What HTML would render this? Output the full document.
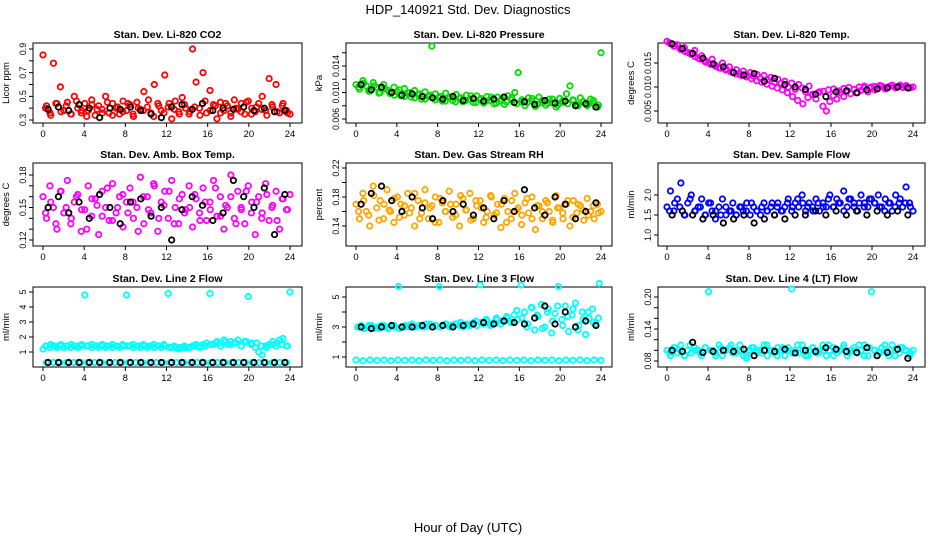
<!DOCTYPE html>
<html><head><meta charset="utf-8"><style>
body{margin:0;background:#fff;}
svg{display:block;font-family:"Liberation Sans",sans-serif;}
</style></head><body>
<svg id="chart" width="936" height="540" viewBox="0 0 936 540" xmlns="http://www.w3.org/2000/svg">
<text x="468" y="14" text-anchor="middle" font-size="13">HDP_140921 Std. Dev. Diagnostics</text>
<text x="468" y="532" text-anchor="middle" font-size="13">Hour of Day (UTC)</text>
</svg>
<script>
const hourTicks=[0,4,8,12,16,20,24];
const titles=["Stan. Dev. Li-820 CO2","Stan. Dev. Li-820 Pressure","Stan. Dev. Li-820 Temp.","Stan. Dev. Amb. Box Temp.","Stan. Dev. Gas Stream RH","Stan. Dev. Sample Flow","Stan. Dev. Line 2 Flow","Stan. Dev. Line 3 Flow","Stan. Dev. Line 4 (LT) Flow"];
const yTitles=["Licor ppm","kPa","degrees C","degrees C","percent","ml/min","ml/min","ml/min","ml/min"];
const yTicks=[[0.3,0.4,0.5,0.6,0.7,0.8,0.9],[0.006,0.008,0.010,0.012,0.014,0.016],[0.005,0.010,0.015],[0.12,0.13,0.14,0.15,0.16,0.17,0.18],[0.14,0.16,0.18,0.20,0.22],[1.0,1.5,2.0],[1,2,3,4,5],[1,2,3,4,5],[0.08,0.10,0.12,0.14,0.16,0.18,0.20]];
const yTickLabels=[["0.3","","0.5","","0.7","","0.9"],["0.006","","0.010","","0.014",""],["0.005","0.010","0.015"],["0.12","","","0.15","","","0.18"],["0.14","","0.18","","0.22"],["1.0","1.5","2.0"],["1","2","3","4","5"],["1","","3","","5"],["0.08","","","0.14","","","0.20"]];
const p1c=[0.85,0.42,0.36,0.78,0.44,0.58,0.38,0.45,0.35,0.50,0.40,0.36,0.44,0.38,0.47,0.34,0.42,0.39,0.50,0.36,0.44,0.40,0.35,0.46,0.38,0.43,0.33,0.45,0.39,0.54,0.41,0.36,0.60,0.44,0.38,0.68,0.41,0.31,0.46,0.37,0.49,0.40,0.35,0.90,0.62,0.40,0.70,0.36,0.55,0.43,0.31,0.45,0.38,0.42,0.36,0.47,0.39,0.44,0.35,0.46,0.40,0.37,0.44,0.50,0.38,0.65,0.41,0.60,0.36,0.44,0.38,0.35];
const p1c2=[0.40,0.34,0.44,0.37,0.42,0.35,0.46,0.38,0.33,0.43,0.39,0.36,0.45,0.34,0.41,0.37,0.44,0.35,0.40,0.38,0.47,0.33,0.42,0.36,0.44,0.39,0.35,0.43,0.37,0.41,0.34,0.46,0.38,0.42,0.36,0.44,0.33,0.40,0.37,0.45,0.35,0.41,0.39,0.34,0.43,0.37,0.42,0.36];
const p1k=[0.39,0.41,0.38,0.43,0.40,0.32,0.40,0.39,0.41,0.38,0.35,0.32,0.41,0.43,0.39,0.44,0.38,0.40,0.39,0.41,0.38,0.40,0.37,0.38];
const p2c=[0.0112,0.0105,0.0118,0.0110,0.0102,0.0115,0.0108,0.0100,0.0112,0.0104,0.0098,0.0108,0.0101,0.0095,0.0106,0.0099,0.0093,0.0103,0.0097,0.0090,0.0101,0.0094,0.0170,0.0098,0.0092,0.0087,0.0099,0.0093,0.0088,0.0097,0.0091,0.0086,0.0096,0.0090,0.0085,0.0095,0.0089,0.0084,0.0094,0.0088,0.0083,0.0093,0.0087,0.0082,0.0095,0.0089,0.0100,0.0130,0.0086,0.0080,0.0092,0.0087,0.0079,0.0093,0.0085,0.0081,0.0090,0.0084,0.0078,0.0091,0.0085,0.0098,0.0110,0.0088,0.0082,0.0092,0.0086,0.0080,0.0090,0.0084,0.0078,0.0160];
const p2c2=[0.0108,0.0114,0.0102,0.0110,0.0099,0.0106,0.0101,0.0096,0.0104,0.0094,0.0100,0.0092,0.0098,0.0090,0.0096,0.0089,0.0094,0.0087,0.0093,0.0086,0.0092,0.0088,0.0095,0.0085,0.0091,0.0087,0.0093,0.0084,0.0090,0.0086,0.0092,0.0083,0.0089,0.0085,0.0091,0.0082,0.0088,0.0084,0.0090,0.0081,0.0087,0.0083,0.0089,0.0080,0.0086,0.0082,0.0088,0.0081];
const p2k=[0.0112,0.0104,0.0108,0.0100,0.0096,0.0098,0.0094,0.0092,0.0090,0.0094,0.0088,0.0091,0.0087,0.0090,0.0093,0.0085,0.0086,0.0082,0.0088,0.0084,0.0087,0.0080,0.0083,0.0078];
const p3c=[0.0195,0.0190,0.0185,0.0188,0.0178,0.0182,0.0172,0.0168,0.0176,0.0160,0.0165,0.0155,0.0150,0.0158,0.0145,0.0140,0.0150,0.0138,0.0142,0.0132,0.0136,0.0128,0.0133,0.0125,0.0130,0.0122,0.0126,0.0118,0.0124,0.0115,0.0120,0.0110,0.0116,0.0108,0.0112,0.0100,0.0108,0.0095,0.0105,0.0098,0.0090,0.0102,0.0085,0.0075,0.0090,0.0060,0.0050,0.0070,0.0082,0.0075,0.0088,0.0080,0.0092,0.0086,0.0095,0.0088,0.0093,0.0098,0.0090,0.0100,0.0094,0.0098,0.0102,0.0096,0.0100,0.0104,0.0098,0.0102,0.0099,0.0103,0.0098,0.0100];
const p3c2=[0.0192,0.0186,0.0180,0.0174,0.0170,0.0163,0.0158,0.0152,0.0147,0.0143,0.0139,0.0135,0.0131,0.0127,0.0124,0.0121,0.0117,0.0113,0.0110,0.0106,0.0102,0.0098,0.0094,0.0088,0.0080,0.0072,0.0065,0.0078,0.0084,0.0088,0.0091,0.0094,0.0096,0.0092,0.0097,0.0099,0.0095,0.0100,0.0102,0.0098,0.0101,0.0103,0.0099,0.0102,0.0100,0.0104,0.0101,0.0099];
const p3k=[0.0190,0.0180,0.0170,0.0160,0.0148,0.0142,0.0130,0.0125,0.0128,0.0112,0.0118,0.0105,0.0100,0.0095,0.0085,0.0080,0.0090,0.0092,0.0088,0.0094,0.0096,0.0098,0.0100,0.0098];
const p4c=[0.160,0.140,0.170,0.150,0.130,0.165,0.145,0.175,0.135,0.155,0.162,0.128,0.148,0.170,0.142,0.158,0.125,0.165,0.150,0.138,0.172,0.145,0.160,0.132,0.155,0.168,0.140,0.150,0.178,0.135,0.160,0.145,0.170,0.128,0.155,0.165,0.140,0.175,0.150,0.135,0.162,0.148,0.170,0.132,0.158,0.145,0.168,0.138,0.155,0.175,0.142,0.160,0.130,0.150,0.180,0.140,0.165,0.148,0.135,0.170,0.155,0.125,0.160,0.145,0.172,0.138,0.152,0.165,0.130,0.158,0.148,0.162];
const p4c2=[0.145,0.155,0.135,0.165,0.150,0.140,0.160,0.148,0.130,0.158,0.152,0.142,0.168,0.138,0.150,0.162,0.145,0.155,0.128,0.160,0.148,0.172,0.140,0.152,0.165,0.135,0.158,0.145,0.150,0.162,0.138,0.155,0.148,0.168,0.142,0.152,0.160,0.135,0.150,0.165,0.145,0.155,0.140,0.162,0.150,0.138,0.158,0.148];
const p4k=[0.150,0.160,0.145,0.155,0.140,0.162,0.150,0.135,0.155,0.158,0.142,0.150,0.120,0.148,0.160,0.152,0.138,0.145,0.175,0.160,0.150,0.168,0.125,0.162];
const p5c=[0.170,0.150,0.185,0.160,0.140,0.195,0.165,0.175,0.150,0.190,0.160,0.145,0.180,0.170,0.155,0.185,0.165,0.140,0.175,0.158,0.190,0.150,0.168,0.180,0.145,0.172,0.160,0.188,0.152,0.170,0.140,0.178,0.162,0.185,0.150,0.168,0.175,0.145,0.160,0.182,0.155,0.170,0.138,0.178,0.160,0.150,0.185,0.165,0.142,0.172,0.158,0.180,0.135,0.168,0.150,0.175,0.160,0.145,0.182,0.165,0.150,0.170,0.140,0.175,0.158,0.168,0.148,0.178,0.160,0.150,0.170,0.160];
const p5c2=[0.160,0.175,0.155,0.182,0.148,0.170,0.162,0.178,0.152,0.168,0.158,0.185,0.150,0.172,0.165,0.145,0.178,0.160,0.170,0.155,0.182,0.162,0.148,0.175,0.165,0.152,0.180,0.158,0.170,0.145,0.175,0.162,0.155,0.178,0.150,0.168,0.160,0.172,0.148,0.165,0.158,0.175,0.152,0.170,0.162,0.155,0.168,0.158];
const p5k=[0.170,0.185,0.195,0.175,0.160,0.180,0.165,0.150,0.175,0.160,0.170,0.155,0.165,0.150,0.175,0.160,0.190,0.165,0.155,0.180,0.170,0.150,0.160,0.172];
const p6c=[1.7,2.1,1.6,1.9,2.3,1.5,1.8,2.0,1.6,1.7,1.9,1.5,1.8,1.6,1.4,1.7,1.9,1.5,1.6,1.8,1.5,1.7,1.6,1.8,1.5,1.7,1.6,1.5,1.8,1.6,1.7,1.5,1.8,1.6,1.7,1.9,1.6,1.8,1.7,2.0,1.6,1.8,1.7,1.9,1.6,1.8,1.7,2.0,1.7,1.9,1.8,2.1,1.7,1.9,1.8,1.6,2.0,1.8,1.7,1.9,1.8,2.0,1.7,1.9,1.8,1.6,2.0,1.8,1.7,2.2,1.8,1.6];
const p6c2=[1.6,1.8,1.7,1.5,1.9,1.6,1.7,1.5,1.8,1.6,1.5,1.7,1.6,1.5,1.7,1.6,1.8,1.6,1.7,1.6,1.8,1.7,1.6,1.8,1.7,1.9,1.8,1.7,1.6,1.8,1.7,1.9,1.7,1.8,1.6,1.9,1.7,1.8,1.7,1.9,1.8,1.7,1.6,1.8,1.7,1.9,1.8,1.7];
const p6k=[1.5,1.6,1.5,1.4,1.5,1.3,1.4,1.5,1.3,1.4,1.5,1.4,1.5,1.5,1.6,1.5,1.6,1.5,1.6,1.5,1.6,1.5,1.6,1.5];
const p7c=[1.2,1.4,1.3,1.4,1.3,1.4,1.3,1.4,1.3,1.4,1.3,1.4,4.8,1.4,1.3,1.4,1.3,1.4,1.3,1.4,1.3,1.4,1.3,1.4,4.8,1.4,1.3,1.4,1.3,1.4,1.3,1.4,1.3,1.4,1.3,1.4,4.9,1.3,1.3,1.2,1.3,1.3,1.3,1.4,1.5,1.4,1.5,1.6,4.9,1.5,1.7,1.6,1.8,1.5,1.7,1.6,1.8,1.4,1.7,4.7,1.6,1.3,1.0,0.8,1.4,1.5,1.7,1.4,1.8,1.9,1.4,5.0];
const p7c2=[1.4,1.5,1.4,1.5,1.4,1.5,1.4,1.5,1.4,1.5,1.4,1.5,1.4,1.5,1.4,1.5,1.4,1.5,1.4,1.5,1.4,1.5,1.4,1.5,1.3,1.4,1.3,1.4,1.3,1.4,1.3,1.4,1.5,1.6,1.4,1.7,1.5,1.6,1.4,1.7,1.5,1.6,1.4,1.3,1.5,1.6,1.5,1.4];
const p7low=[0.3,0.3,0.3,0.3,0.3,0.3,0.3,0.3,0.3,0.3,0.3,0.3,0.3,0.3,0.3,0.3,0.3,0.3,0.3,0.3,0.3,0.3,0.3,0.3,0.3,0.3,0.3,0.3,0.3,0.3,0.3,0.3,0.3,0.3,0.3,0.3];
const p7k=[0.3,0.3,0.3,0.3,0.3,0.3,0.3,0.3,0.3,0.3,0.3,0.3,0.3,0.3,0.3,0.3,0.3,0.3,0.3,0.3,0.3,0.3,0.3,0.3];
const p8c=[3.0,3.1,2.9,3.0,3.1,2.9,3.0,3.1,3.0,2.9,3.1,3.0,5.7,3.0,3.1,3.0,3.2,3.0,3.1,3.0,3.2,3.1,3.0,3.1,5.7,3.1,3.2,3.0,3.1,3.2,3.1,3.0,3.2,3.1,3.3,3.1,5.8,3.2,3.4,3.1,3.3,3.5,3.2,3.4,3.6,3.3,3.8,3.5,5.8,4.0,3.2,4.3,2.8,3.7,4.5,3.0,4.2,2.6,3.9,5.7,3.5,4.4,2.7,3.8,4.6,3.1,4.0,2.5,3.6,4.2,3.2,5.9];
const p8c2=[3.0,2.9,3.1,3.0,2.9,3.1,3.0,3.1,2.9,3.0,3.1,3.0,3.1,3.0,3.2,3.1,3.0,3.2,3.1,3.2,3.3,3.1,3.2,3.4,3.3,3.5,3.2,3.6,3.4,3.7,3.3,4.1,3.6,3.0,4.3,3.8,2.9,4.0,3.4,4.4,3.1,3.7,4.2,2.8,3.5,4.0,3.3,3.6];
const p8low=[0.8,0.75,0.8,0.78,0.8,0.75,0.8,0.78,0.8,0.76,0.8,0.78,0.8,0.75,0.8,0.78,0.8,0.75,0.8,0.78,0.8,0.76,0.8,0.78,0.8,0.75,0.8,0.78,0.8,0.75,0.8,0.78,0.8,0.76,0.8,0.78];
const p8k=[3.0,2.9,3.0,3.1,3.0,3.0,3.1,3.0,3.1,3.0,3.1,3.2,3.3,3.2,3.4,3.3,3.2,3.6,4.4,3.2,4.0,3.0,3.4,3.1];
const p9c=[0.10,0.09,0.105,0.095,0.11,0.09,0.10,0.095,0.105,0.10,0.09,0.105,0.21,0.10,0.095,0.11,0.09,0.10,0.105,0.095,0.10,0.11,0.09,0.085,0.10,0.105,0.095,0.10,0.11,0.09,0.10,0.095,0.105,0.10,0.09,0.105,0.215,0.10,0.095,0.11,0.09,0.10,0.105,0.095,0.10,0.11,0.09,0.10,0.105,0.095,0.10,0.11,0.09,0.10,0.105,0.095,0.10,0.11,0.09,0.21,0.10,0.095,0.105,0.10,0.09,0.11,0.10,0.095,0.105,0.10,0.09,0.10];
const p9c2=[0.095,0.105,0.10,0.09,0.11,0.10,0.095,0.105,0.10,0.09,0.105,0.10,0.11,0.095,0.10,0.09,0.105,0.10,0.095,0.11,0.10,0.09,0.105,0.10,0.095,0.11,0.10,0.09,0.105,0.095,0.10,0.11,0.09,0.10,0.105,0.095,0.10,0.11,0.09,0.105,0.10,0.095,0.11,0.10,0.09,0.105,0.10,0.095];
const p9k=[0.10,0.098,0.115,0.096,0.098,0.10,0.098,0.102,0.090,0.10,0.098,0.102,0.095,0.10,0.098,0.105,0.102,0.098,0.096,0.105,0.09,0.096,0.102,0.085];

const svg=document.getElementById('chart');
const NS='http://www.w3.org/2000/svg';
function mk(tag,attrs,parent){const e=document.createElementNS(NS,tag);for(const k in attrs)e.setAttribute(k,attrs[k]);(parent||svg).appendChild(e);return e;}
const cols=[{l:33,r:302,x0:43,x24:290},{l:346,r:612,x0:356,x24:601},{l:658,r:925,x0:667,x24:913}];
const rows=[{t:43,b:123},{t:163,b:246},{t:287,b:367}];
const ycal=[[0.3,120,0.9,49],[0.006,119,0.014,66],[0.005,111,0.015,63],[0.12,240,0.18,175],[0.14,226,0.22,168],[1.0,235,2.0,195],[1,352,5,292],[1,357,5,297],[0.08,361,0.20,297]];
const series=[[{v:p1c,c:'#ff0000'},{v:p1c2,c:'#ff0000'},{v:p1k,c:'#000'}],[{v:p2c,c:'#00dd00'},{v:p2c2,c:'#00dd00'},{v:p2k,c:'#000'}],[{v:p3c,c:'#ff00ff'},{v:p3c2,c:'#ff00ff'},{v:p3k,c:'#000'}],[{v:p4c,c:'#ff00ff'},{v:p4c2,c:'#ff00ff'},{v:p4k,c:'#000'}],[{v:p5c,c:'#ffa500'},{v:p5c2,c:'#ffa500'},{v:p5k,c:'#000'}],[{v:p6c,c:'#0000ff'},{v:p6c2,c:'#0000ff'},{v:p6k,c:'#000'}],[{v:p7c,c:'#00ffff'},{v:p7c2,c:'#00ffff'},{v:p7low,c:'#00ffff'},{v:p7k,c:'#000'}],[{v:p8low,c:'#00ffff'},{v:p8c,c:'#00ffff'},{v:p8c2,c:'#00ffff'},{v:p8k,c:'#000'}],[{v:p9c,c:'#00ffff'},{v:p9c2,c:'#00ffff'},{v:p9k,c:'#000'}]];
for(let p=0;p<9;p++){
  const C=cols[p%3],R=rows[Math.floor(p/3)],cal=ycal[p];
  const xs=h=>C.x0+h*(C.x24-C.x0)/24;
  const ys=v=>cal[1]+(v-cal[0])*(cal[3]-cal[1])/(cal[2]-cal[0]);
  const g=mk('g',{});
  
  
  const t=mk('text',{x:(C.l+C.r)/2,y:R.t-5,'text-anchor':'middle','font-size':'10.5','font-weight':'bold'},g);t.textContent=titles[p];
  
  
  const box=mk('rect',{x:C.l,y:R.t,width:C.r-C.l,height:R.b-R.t,fill:'none',stroke:'#000','stroke-width':1},g);
  
  
  const ax=mk('g',{},g);
  
  
  hourTicks.forEach(h=>{mk('line',{x1:xs(h),x2:xs(h),y1:R.b,y2:R.b+4,stroke:'#000'},ax);const l=mk('text',{x:xs(h),y:R.b+14,'text-anchor':'middle','font-size':'9.5'},ax);l.textContent=h;});
  const ay=mk('g',{},g);
  
  
  yTicks[p].forEach((v,i)=>{const y=ys(v);mk('line',{x1:C.l-4,x2:C.l,y1:y,y2:y,stroke:'#000'},ay);const l=mk('text',{x:0,y:0,'text-anchor':'middle','font-size':'8.8',transform:`translate(${C.l-7},${y}) rotate(-90)`},ay);l.textContent=yTickLabels[p][i];});
  const yt=mk('text',{x:0,y:0,'text-anchor':'middle','font-size':'9.5',transform:`translate(${C.l-24},${(R.t+R.b)/2}) rotate(-90)`},g);yt.textContent=yTitles[p];
  
  
  series[p].forEach((s,si)=>{
    const n=s.v.length;
    s.v.forEach((v,i)=>{
      const h=(s.c==='#000'||si>0)?(i+0.5)*24/n:i*24/(n-1);
      const c=mk('circle',{cx:xs(h),cy:ys(v),r:2.7,fill:'none',stroke:s.c,'stroke-width':1.8},g);
      
      
    });
  });
}
</script>
</body></html>
